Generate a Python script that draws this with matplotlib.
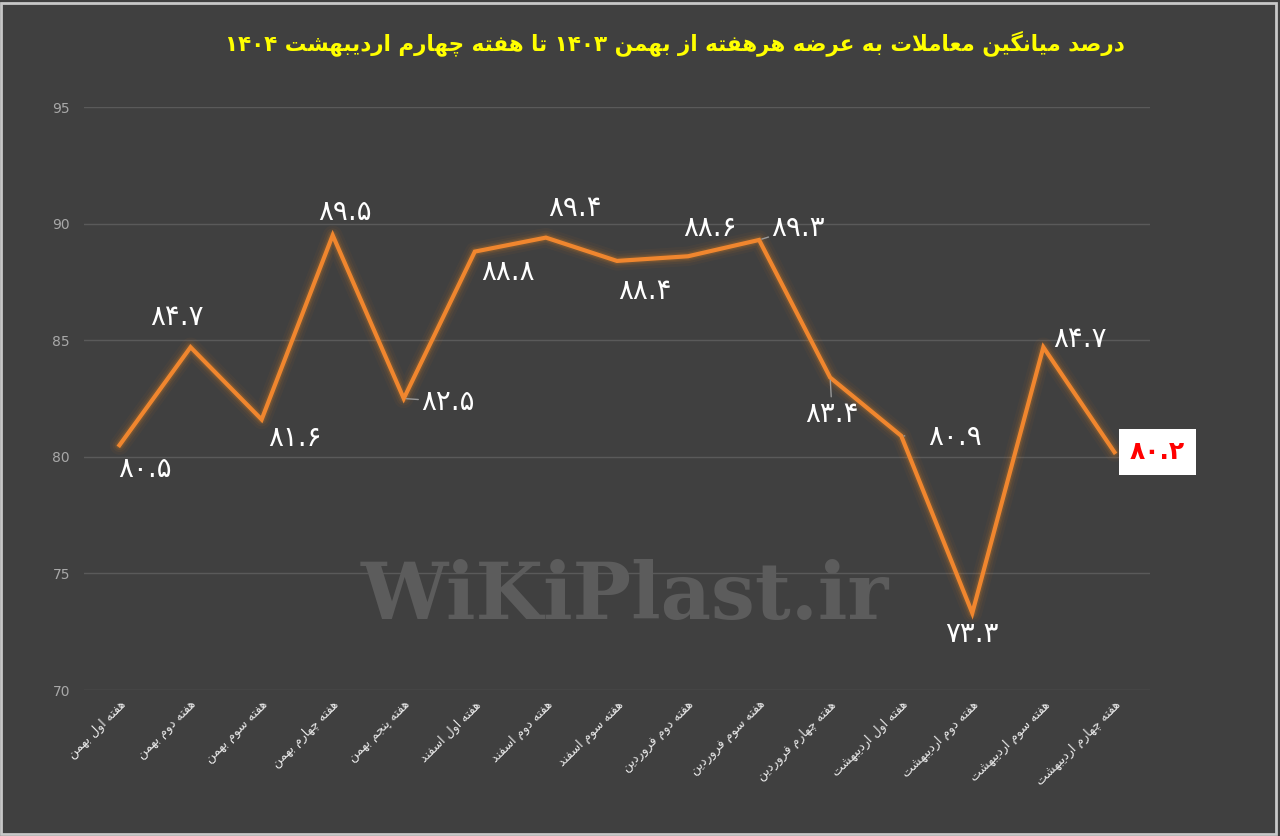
import numpy as np
import matplotlib
matplotlib.use('Agg')
import matplotlib.pyplot as plt
from matplotlib.patches import Rectangle

plt.rcParams['font.family'] = ['DejaVu Sans']

# data
weeks = ['هفته اول بهمن', 'هفته دوم بهمن', 'هفته سوم بهمن', 'هفته چهارم بهمن',
         'هفته پنجم بهمن', 'هفته اول اسفند', 'هفته دوم اسفند', 'هفته سوم اسفند',
         'هفته دوم فروردین', 'هفته سوم فروردین', 'هفته چهارم فروردین',
         'هفته اول اردیبهشت', 'هفته دوم اردیبهشت', 'هفته سوم اردیبهشت',
         'هفته چهارم اردیبهشت']
values = [80.5, 84.7, 81.6, 89.5, 82.5, 88.8, 89.4, 88.4, 88.6, 89.3,
          83.4, 80.9, 73.3, 84.7, 80.2]
title = 'درصد میانگین معاملات به عرضه هرهفته از بهمن 1403 تا هفته چهارم اردیبهشت 1404'
yticks = [70, 75, 80, 85, 90, 95]

# label offsets in pixels (dx, dy), and whether a small leader line is drawn
offs = [(25, -24), (-14, 30), (33, -18), (12, 23), (44, -3), (33, -20),
        (29, 30), (28, -30), (22, 28), (39, 12), (2, -36), (54, -1),
        (0, -21), (37, 8), (43, 0)]
leader = [False, False, False, False, True, False, False, False, False,
          True, True, True, False, False, False]

# --- minimal arabic/persian shaping (matplotlib has no shaping / bidi) ---
FORMS = {  # isolated, final, initial, medial
    'ا': (0xFE8D, 0xFE8E, None, None), 'آ': (0xFE81, 0xFE82, None, None),
    'ب': (0xFE8F, 0xFE90, 0xFE91, 0xFE92), 'پ': (0xFB56, 0xFB57, 0xFB58, 0xFB59),
    'ت': (0xFE95, 0xFE96, 0xFE97, 0xFE98), 'ث': (0xFE99, 0xFE9A, 0xFE9B, 0xFE9C),
    'ج': (0xFE9D, 0xFE9E, 0xFE9F, 0xFEA0), 'چ': (0xFB7A, 0xFB7B, 0xFB7C, 0xFB7D),
    'ح': (0xFEA1, 0xFEA2, 0xFEA3, 0xFEA4), 'خ': (0xFEA5, 0xFEA6, 0xFEA7, 0xFEA8),
    'د': (0xFEA9, 0xFEAA, None, None), 'ذ': (0xFEAB, 0xFEAC, None, None),
    'ر': (0xFEAD, 0xFEAE, None, None), 'ز': (0xFEAF, 0xFEB0, None, None),
    'ژ': (0xFB8A, 0xFB8B, None, None),
    'س': (0xFEB1, 0xFEB2, 0xFEB3, 0xFEB4), 'ش': (0xFEB5, 0xFEB6, 0xFEB7, 0xFEB8),
    'ص': (0xFEB9, 0xFEBA, 0xFEBB, 0xFEBC), 'ض': (0xFEBD, 0xFEBE, 0xFEBF, 0xFEC0),
    'ط': (0xFEC1, 0xFEC2, 0xFEC3, 0xFEC4), 'ظ': (0xFEC5, 0xFEC6, 0xFEC7, 0xFEC8),
    'ع': (0xFEC9, 0xFECA, 0xFECB, 0xFECC), 'غ': (0xFECD, 0xFECE, 0xFECF, 0xFED0),
    'ف': (0xFED1, 0xFED2, 0xFED3, 0xFED4), 'ق': (0xFED5, 0xFED6, 0xFED7, 0xFED8),
    'ک': (0xFB8E, 0xFB8F, 0xFB90, 0xFB91), 'گ': (0xFB92, 0xFB93, 0xFB94, 0xFB95),
    'ل': (0xFEDD, 0xFEDE, 0xFEDF, 0xFEE0), 'م': (0xFEE1, 0xFEE2, 0xFEE3, 0xFEE4),
    'ن': (0xFEE5, 0xFEE6, 0xFEE7, 0xFEE8), 'ه': (0xFEE9, 0xFEEA, 0xFEEB, 0xFEEC),
    'و': (0xFEED, 0xFEEE, None, None), 'ی': (0xFBFC, 0xFBFD, 0xFBFE, 0xFBFF),
}
FA_DIGITS = str.maketrans('0123456789', '۰۱۲۳۴۵۶۷۸۹')


def dual(c):
    return c in FORMS and FORMS[c][2] is not None


def shape_word(w):
    out = []
    i = 0
    n = len(w)
    while i < n:
        c = w[i]
        prev_j = i > 0 and dual(w[i - 1])
        if c == 'ل' and i + 1 < n and w[i + 1] == 'ا':
            out.append(chr(0xFEFC if prev_j else 0xFEFB))
            i += 2
            continue
        if c in FORMS:
            iso, fin, ini, med = FORMS[c]
            next_j = i + 1 < n and w[i + 1] in FORMS and ini is not None
            if prev_j and next_j:
                g = med
            elif prev_j:
                g = fin
            elif next_j:
                g = ini
            else:
                g = iso
            out.append(chr(g))
        else:
            out.append(c)
        i += 1
    return ''.join(out)


def fa(s):
    words = s.split(' ')
    res = []
    for w in words[::-1]:
        if w and w[0].isdigit():
            res.append(w.translate(FA_DIGITS))
        else:
            res.append(shape_word(w)[::-1])
    return ' '.join(res)


def fa_num(v):
    return ('%.1f' % v).translate(FA_DIGITS)


# --- figure ---
bg = '#404040'
fig = plt.figure(figsize=(12.8, 8.36), dpi=100, facecolor=bg)
ax = fig.add_axes([0.0656, 0.1746, 0.8328, 0.6974])
ax.set_facecolor(bg)

x = np.arange(len(values))
orange = '#F0862E'

# glow
for lw, a in [(14, 0.04), (10, 0.06), (7, 0.09), (5, 0.13)]:
    ax.plot(x, values, color='#FF8C1A', lw=lw, alpha=a, solid_capstyle='round',
            solid_joinstyle='round', zorder=2)
ax.plot(x, values, color=orange, lw=3, solid_joinstyle='miter', zorder=3)

ax.set_xlim(-0.5, len(values) - 0.5)
ax.set_ylim(70, 95)
ax.set_yticks(yticks)
ax.set_yticklabels([str(t) for t in yticks], color='#A8A8A8', fontsize=10)
ax.grid(axis='y', color='#5A5A5A', lw=1)
ax.set_axisbelow(True)
ax.tick_params(axis='both', length=0)
ax.tick_params(axis='y', pad=10)
for s in ax.spines.values():
    s.set_visible(False)

ax.set_xticks(x)
ax.set_xticklabels([fa(w) for w in weeks], rotation=45, ha='right', va='top',
                   rotation_mode='anchor', color='#E8E8E8', fontsize=9)
ax.tick_params(axis='x', pad=6)

# data labels
for i, v in enumerate(values):
    dx, dy = offs[i]
    if i == len(values) - 1:
        ax.annotate(fa_num(v), (i, v), xytext=(dx, dy), textcoords='offset pixels',
                    ha='center', va='center', fontsize=18, fontweight='bold',
                    color='#FF0000', zorder=6,
                    bbox=dict(boxstyle='square,pad=0.45', fc='white', ec='none'))
        continue
    ap = None
    if leader[i]:
        ap = dict(arrowstyle='-', color='#9A9A9A', lw=1, shrinkA=15, shrinkB=2)
    ax.annotate(fa_num(v), (i, v), xytext=(dx, dy), textcoords='offset pixels',
                ha='center', va='center', fontsize=20, color='white', zorder=5,
                arrowprops=ap)

# watermark
fig.text(0.488, 0.286, 'WiKiPlast.ir', ha='center', va='center', fontsize=56,
         fontweight='bold', family='DejaVu Serif', color='#5C5C5C', zorder=0)

# title
fig.text(0.527, 0.949, fa(title), ha='center', va='center', fontsize=15.5,
         fontweight='bold', color='#FFFF00')

# frame
fig.patches.append(Rectangle((0.001, 0.002), 0.996, 0.995, transform=fig.transFigure,
                             fill=False, ec='#C8C8C8', lw=2))

fig.savefig('out.png', dpi=100, facecolor=bg)
